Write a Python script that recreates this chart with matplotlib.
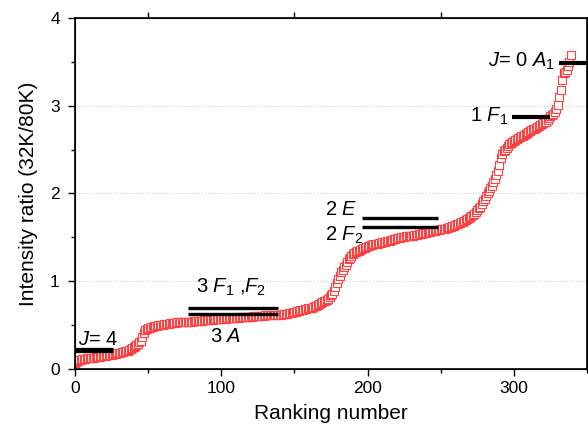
import numpy as np
import matplotlib
matplotlib.use("Agg")
import matplotlib.pyplot as plt
from matplotlib.ticker import MultipleLocator

plt.rcParams['font.family'] = ['Liberation Sans', 'DejaVu Sans']
plt.rcParams['mathtext.fontset'] = 'custom'
plt.rcParams['mathtext.rm'] = 'Liberation Sans'
plt.rcParams['mathtext.it'] = 'Liberation Sans:italic'

# intensity ratio (32K/80K) sorted by rank, 10 values per row
ratio = [
    0.07, 0.08, 0.09, 0.10, 0.10, 0.11, 0.11, 0.11, 0.12, 0.12,
    0.12, 0.13, 0.13, 0.13, 0.14, 0.14, 0.14, 0.14, 0.15, 0.15,
    0.15, 0.15, 0.16, 0.16, 0.16, 0.16, 0.17, 0.17, 0.17, 0.18,
    0.18, 0.18, 0.19, 0.19, 0.20, 0.20, 0.21, 0.22, 0.23, 0.24,
    0.25, 0.26, 0.27, 0.29, 0.31, 0.32, 0.36, 0.41, 0.44, 0.46,
    0.47, 0.47, 0.48, 0.48, 0.49, 0.49, 0.49, 0.50, 0.50, 0.50,
    0.50, 0.51, 0.51, 0.51, 0.51, 0.52, 0.52, 0.52, 0.52, 0.52,
    0.53, 0.53, 0.53, 0.53, 0.53, 0.54, 0.54, 0.54, 0.54, 0.54,
    0.54, 0.55, 0.55, 0.55, 0.55, 0.55, 0.55, 0.55, 0.56, 0.56,
    0.56, 0.56, 0.56, 0.56, 0.56, 0.57, 0.57, 0.57, 0.57, 0.57,
    0.57, 0.57, 0.57, 0.57, 0.58, 0.58, 0.58, 0.58, 0.58, 0.58,
    0.58, 0.58, 0.58, 0.59, 0.59, 0.59, 0.59, 0.59, 0.59, 0.59,
    0.59, 0.59, 0.60, 0.60, 0.60, 0.60, 0.60, 0.60, 0.60, 0.60,
    0.61, 0.61, 0.61, 0.61, 0.61, 0.61, 0.62, 0.62, 0.62, 0.62,
    0.62, 0.62, 0.63, 0.63, 0.63, 0.63, 0.64, 0.64, 0.64, 0.65,
    0.65, 0.65, 0.66, 0.66, 0.67, 0.67, 0.67, 0.68, 0.68, 0.69,
    0.69, 0.70, 0.70, 0.71, 0.72, 0.72, 0.73, 0.74, 0.75, 0.76,
    0.77, 0.78, 0.79, 0.80, 0.82, 0.84, 0.86, 0.89, 0.93, 0.98,
    1.02, 1.06, 1.10, 1.13, 1.16, 1.19, 1.22, 1.25, 1.27, 1.29,
    1.31, 1.32, 1.33, 1.34, 1.35, 1.36, 1.37, 1.38, 1.38, 1.39,
    1.40, 1.40, 1.41, 1.41, 1.42, 1.42, 1.43, 1.43, 1.44, 1.44,
    1.45, 1.45, 1.45, 1.46, 1.46, 1.46, 1.47, 1.47, 1.48, 1.48,
    1.49, 1.49, 1.49, 1.50, 1.50, 1.50, 1.51, 1.51, 1.51, 1.52,
    1.52, 1.52, 1.53, 1.53, 1.53, 1.54, 1.54, 1.54, 1.55, 1.55,
    1.55, 1.56, 1.56, 1.56, 1.57, 1.57, 1.57, 1.58, 1.58, 1.58,
    1.59, 1.59, 1.60, 1.60, 1.61, 1.61, 1.62, 1.62, 1.63, 1.63,
    1.64, 1.65, 1.65, 1.66, 1.67, 1.68, 1.69, 1.70, 1.71, 1.72,
    1.73, 1.74, 1.76, 1.77, 1.79, 1.81, 1.83, 1.85, 1.88, 1.91,
    1.94, 1.97, 2.00, 2.03, 2.06, 2.09, 2.13, 2.17, 2.21, 2.26,
    2.33, 2.41, 2.45, 2.48, 2.50, 2.52, 2.54, 2.56, 2.57, 2.59,
    2.60, 2.61, 2.62, 2.63, 2.64, 2.65, 2.66, 2.67, 2.68, 2.69,
    2.70, 2.71, 2.72, 2.73, 2.74, 2.75, 2.76, 2.77, 2.78, 2.79,
    2.80, 2.81, 2.82, 2.84, 2.86, 2.88, 2.89, 2.91, 2.93, 2.96,
    3.01, 3.10, 3.18, 3.29, 3.37, 3.39, 3.41, 3.45, 3.50, 3.58,
]
rank = np.arange(len(ratio))

# level bars: (y, x start, x end, line width)
levels = [
    (0.22, 0, 26, 3.8),      # J=4
    (0.69, 77, 139, 2.4),    # 3 F1,F2
    (0.63, 77, 139, 2.4),    # 3 A
    (1.72, 196, 248, 2.4),   # 2 E
    (1.62, 196, 248, 2.4),   # 2 F2
    (2.87, 299, 325, 3.0),   # 1 F1
    (3.49, 331, 352, 3.0),   # J=0 A1
]

# level labels: (x, baseline y, text)
labels = [
    (2, 0.27, r"$\mathit{J}$= 4"),
    (83, 0.87, r"3 $\mathit{F}_{\mathit{1}}$ ,$\mathit{F}_{\mathit{2}}$"),
    (92, 0.31, r"3 $\mathit{A}$"),
    (171, 1.75, r"2 $\mathit{E}$"),
    (171, 1.46, r"2 $\mathit{F}_{\mathit{2}}$"),
    (270, 2.82, r"1 $\mathit{F}_{\mathit{1}}$"),
    (282, 3.44, r"$\mathit{J}$= 0 $\mathit{A}_{\mathit{1}}$"),
]

fig = plt.figure(figsize=(5.88, 4.36), dpi=100)
ax = fig.add_axes([0.1276, 0.1537, 0.8707, 0.805])

ax.plot(rank, ratio, linestyle='none', marker='s', markersize=5.2,
        markerfacecolor='white', markeredgecolor='#ff4040',
        markeredgewidth=0.8, zorder=3)

for y, x0, x1, lw in levels:
    ax.plot([x0, x1], [y, y], color='black', linewidth=lw,
            solid_capstyle='butt', zorder=4, clip_on=False)

for x, y, t in labels:
    ax.text(x, y, t, fontsize=14.5, ha='left', va='baseline', zorder=5)

ax.set_xlim(0, 350)
ax.set_ylim(0, 4)
ax.set_xticks([0, 100, 200, 300])
ax.set_yticks([0, 1, 2, 3, 4])
ax.xaxis.set_minor_locator(MultipleLocator(50))
ax.yaxis.set_minor_locator(MultipleLocator(0.5))
ax.tick_params(which='major', direction='out', length=5, width=1,
               labelsize=12.5, top=False, right=False)
ax.tick_params(axis='y', which='major', pad=6)
ax.tick_params(which='minor', direction='out', length=3, width=1,
               top=False, right=False)
for s in ax.spines.values():
    s.set_linewidth(1.2)

ax.yaxis.grid(True, linestyle=':', color='#cccccc', linewidth=0.8)
ax.set_axisbelow(True)

top = ax.twiny()
top.set_xlim(ax.get_xlim())
top.set_xticks([50, 150, 250])
top.tick_params(direction='out', length=4, width=1, labeltop=False)

ax.set_xlabel('Ranking number', fontsize=15, labelpad=6)
ax.set_ylabel('Intensity ratio (32K/80K)', fontsize=15, labelpad=9)

fig.savefig('out.png', dpi=100)
